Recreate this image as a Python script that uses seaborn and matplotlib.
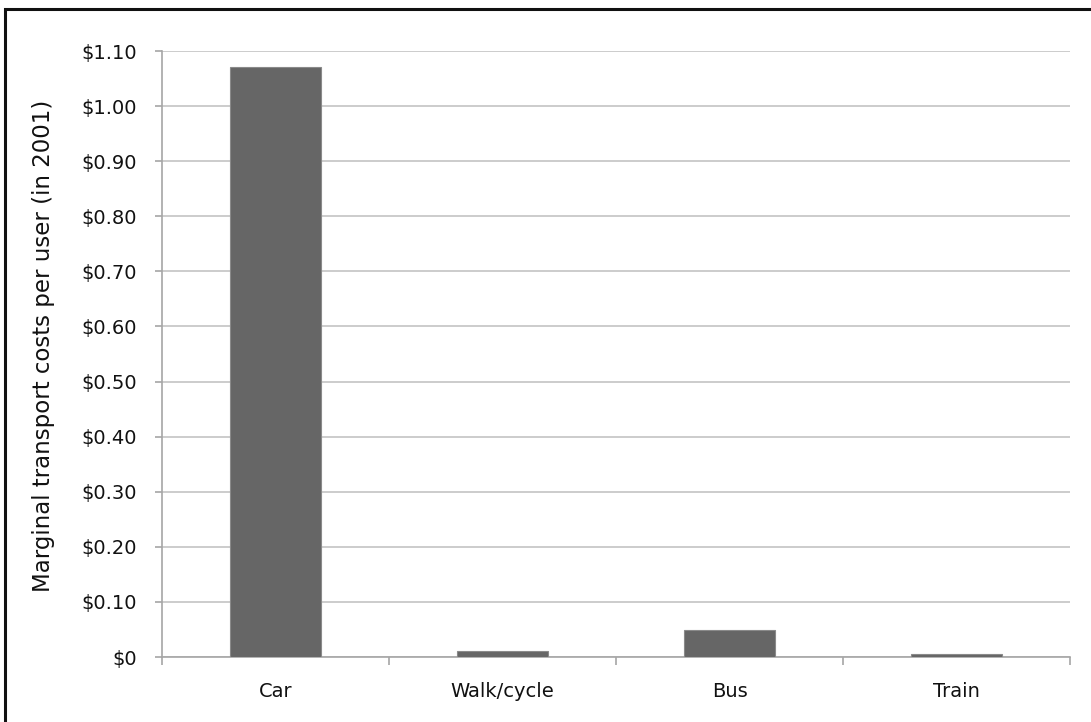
import matplotlib
matplotlib.use("Agg")
import matplotlib.pyplot as plt
import matplotlib.patches as mpatches
from matplotlib.ticker import FixedLocator, FuncFormatter
import seaborn as sns
import pandas as pd

# Marginal transport costs per user, 2001
modes = ["Car", "Walk/cycle", "Bus", "Train"]
costs = [1.071, 0.010, 0.049, 0.005]
y_ticks = [0.0, 0.1, 0.2, 0.3, 0.4, 0.5, 0.6, 0.7, 0.8, 0.9, 1.0, 1.1]
y_label = "Marginal transport costs per user (in 2001)"

sns.set_theme(style="white")
plt.rcParams["font.family"] = ["DejaVu Sans"]

df = pd.DataFrame({"mode": modes, "cost": costs})

fig = plt.figure(figsize=(10.91, 7.22), dpi=100)
ax = fig.add_axes([162 / 1091, 1 - 657 / 722, 908 / 1091, 606 / 722])

sns.barplot(data=df, x="mode", y="cost", color="#666666", width=0.4,
            saturation=1, edgecolor="#8a8a8a", linewidth=0.8, ax=ax, zorder=3)

ax.set_xlim(-0.5, len(modes) - 0.5)
ax.set_ylim(0, 1.1)

# horizontal gridlines
ax.yaxis.set_major_locator(FixedLocator(y_ticks))
ax.yaxis.set_major_formatter(FuncFormatter(lambda v, _: "$0" if v == 0 else f"${v:.2f}"))
ax.grid(axis="y", color="#c4c4c4", linewidth=1.2, zorder=0)
ax.set_axisbelow(True)

for side in ["top", "right"]:
    ax.spines[side].set_visible(False)
for side in ["left", "bottom"]:
    ax.spines[side].set_color("#a6a6a6")
    ax.spines[side].set_linewidth(1.2)

ax.tick_params(axis="y", which="major", direction="out", length=5, width=1.2,
               color="#a6a6a6", labelsize=14, pad=13, labelcolor="#111111", left=True)
# category boundaries as minor ticks, labels at centres without marks
ax.xaxis.set_minor_locator(FixedLocator([i - 0.5 for i in range(len(modes) + 1)]))
ax.tick_params(axis="x", which="minor", direction="out", length=6, width=1.2,
               color="#a6a6a6", bottom=True)
ax.tick_params(axis="x", which="major", length=0, labelsize=14, pad=18,
               labelcolor="#111111")

ax.set_xlabel("")
ax.set_ylabel(y_label, fontsize=16.5, color="#111111")
ax.yaxis.set_label_coords(-0.118, 0.513)

# outer frame around the chart
frame = mpatches.Rectangle((5 / 1091, -0.05), 1.2, 1 - 9 / 722 + 0.05,
                           transform=fig.transFigure, fill=False,
                           edgecolor="#111111", linewidth=2.2, clip_on=False)
fig.patches.append(frame)

fig.savefig("out.png", dpi=100, facecolor="white")
